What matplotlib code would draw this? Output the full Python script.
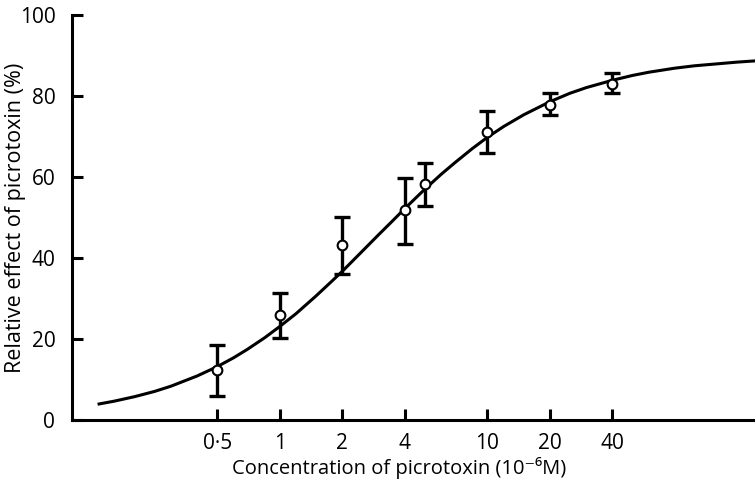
import matplotlib
matplotlib.use('Agg')
from matplotlib import pyplot as plt

plt.rcParams['font.family'] = ['Open Sans', 'DejaVu Sans']

# measured points (concentration in 10^-6 M, relative effect %)
conc = [0.5, 1, 2, 4, 5, 10, 20, 40]
effect = [12.5, 25.9, 43.2, 51.9, 58.3, 71.2, 77.9, 83.1]
err_top = [18.5, 31.3, 50.2, 59.7, 63.6, 76.3, 80.7, 85.6]
err_bottom = [5.9, 20.4, 36.2, 43.5, 52.9, 66.0, 75.3, 80.7]

# fitted curve
curve_x = [0.135, 0.16, 0.2, 0.25, 0.3, 0.4, 0.5, 0.6, 0.7, 0.85, 1, 1.2,
           1.5, 1.75, 2, 2.5, 3, 3.5, 4, 5, 6, 7, 8.5, 10, 12, 15, 20, 25,
           30, 40, 50, 60, 80, 100, 130, 160, 195]
curve_y = [4.0, 4.7, 5.8, 7.1, 8.4, 10.9, 13.2, 15.4, 17.5, 20.4, 23.1,
           26.3, 30.7, 33.9, 36.7, 41.7, 45.8, 49.2, 52.2, 57.0, 60.7, 63.6,
           67.1, 69.8, 72.5, 75.4, 78.6, 80.7, 82.1, 83.9, 85.1, 85.9, 86.9,
           87.5, 88.0, 88.4, 88.7]

tick_vals = [0.5, 1, 2, 4, 10, 20, 40]
tick_labels = ['0·5', '1', '2', '4', '10', '20', '40']

fig = plt.figure(figsize=(7.55, 4.88), dpi=100)
ax = fig.add_axes([0.0954, 0.139, 0.9046, 0.830])

ax.plot(curve_x, curve_y, color='black', lw=2.2, zorder=2)

lower = [e - b for e, b in zip(effect, err_bottom)]
upper = [t - e for e, t in zip(effect, err_top)]
ax.errorbar(conc, effect, yerr=[lower, upper], fmt='none', ecolor='black',
            elinewidth=2.4, capsize=6, capthick=2.4, zorder=3)
ax.plot(conc, effect, 'o', mfc='white', mec='black', mew=1.5, ms=7,
        zorder=4)

ax.set_xscale('log')
ax.set_xlim(0.1, 195)
ax.set_ylim(0, 100)
ax.set_xticks(tick_vals)
ax.set_xticklabels(tick_labels)
ax.minorticks_off()
ax.set_yticks([0, 20, 40, 60, 80, 100])

for s in ['top', 'right']:
    ax.spines[s].set_visible(False)
for s in ['left', 'bottom']:
    ax.spines[s].set_linewidth(2.2)

ax.tick_params(direction='in', length=8, width=2.2, labelsize=15)
ax.tick_params(axis='x', pad=9)
ax.tick_params(axis='y', pad=12)

ax.set_xlabel('Concentration of picrotoxin (10⁻⁶M)', fontsize=14.5)
ax.set_ylabel('Relative effect of picrotoxin (%)', fontsize=15.5)
ax.xaxis.set_label_coords(0.479, -0.091)
ax.yaxis.set_label_coords(-0.067, 0.5)

fig.savefig('out.png', dpi=100)
